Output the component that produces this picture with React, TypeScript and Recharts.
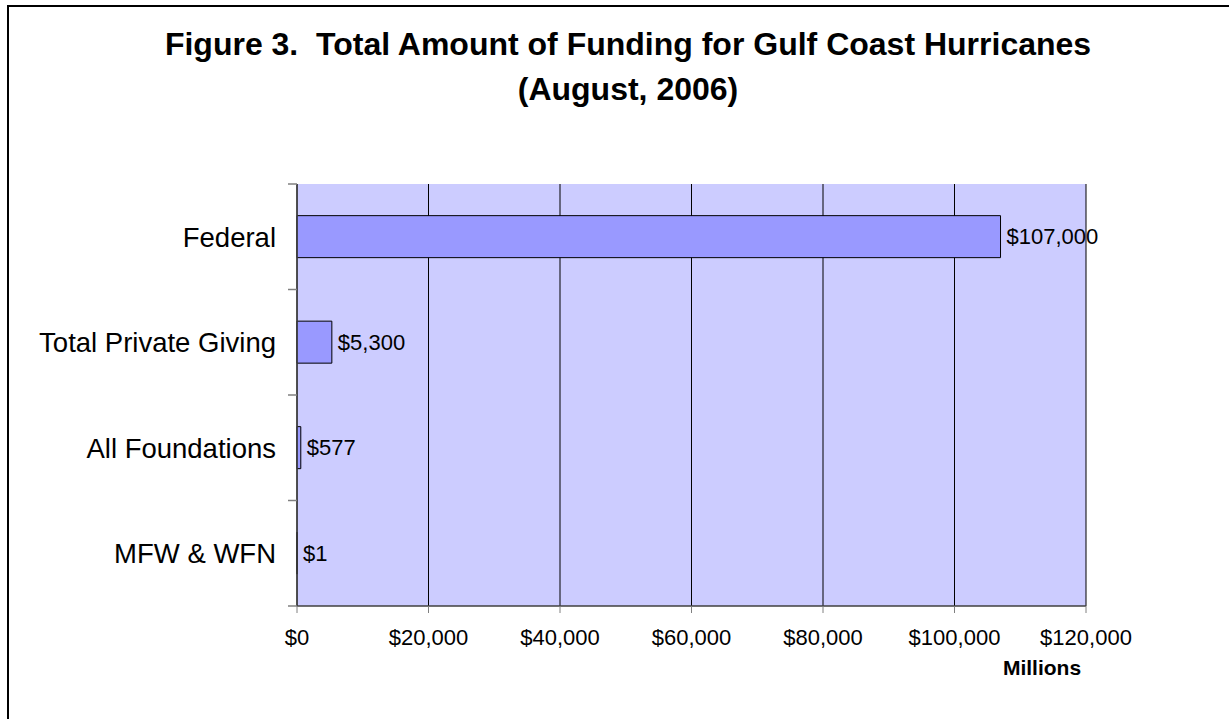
import { Bar, BarChart, CartesianGrid, LabelList, XAxis, YAxis } from 'recharts'

const categories = ['Federal', 'Total Private Giving', 'All Foundations', 'MFW & WFN']
const amounts = [107000, 5300, 577, 1]
const xTicks = [0, 20000, 40000, 60000, 80000, 100000, 120000]

const data = categories.map((name, i) => ({ name, value: amounts[i] }))

const money = (v: number) => `$${Number(v).toLocaleString('en-US')}`
const FONT = '"Liberation Sans", Arial, Helvetica, sans-serif'

const CAT_TICK_SIZE = 6
const CAT_TICK_MARGIN = 15

// Excel puts category ticks on the band edges, so draw them from the band offset
function CategoryTick(props: any) {
  const { x, y, payload, index, visibleTicksCount } = props
  const axisX = x + CAT_TICK_SIZE + CAT_TICK_MARGIN
  const half = payload?.offset ?? 0
  return (
    <g>
      <line x1={axisX - 9} x2={axisX} y1={y - half} y2={y - half} stroke="#808080" strokeWidth={1.5} />
      {index === visibleTicksCount - 1 && (
        <line x1={axisX - 9} x2={axisX} y1={y + half} y2={y + half} stroke="#808080" strokeWidth={1.5} />
      )}
      <text x={x} y={y} dy="0.355em" textAnchor="end" fontSize={27.5} fontFamily={FONT} fill="#000">
        {payload.value}
      </text>
    </g>
  )
}

export default function App() {
  return (
    <div
      style={{
        position: 'absolute',
        left: 0,
        top: 0,
        width: 1229,
        height: 719,
        overflow: 'hidden',
        background: '#fff',
        fontFamily: FONT,
        color: '#000',
      }}
    >
      {/* chart area frame, cut off at the right and bottom like the source */}
      <div
        style={{
          position: 'absolute',
          left: 7,
          top: 5,
          width: 1400,
          height: 900,
          border: '2px solid #000',
        }}
      />
      <div
        style={{
          position: 'absolute',
          left: 128,
          width: 1000,
          top: 22,
          textAlign: 'center',
          fontWeight: 'bold',
          fontSize: 32,
          lineHeight: '45px',
        }}
      >
        <div>Figure 3.&nbsp; Total Amount of Funding for Gulf Coast Hurricanes</div>
        <div>(August, 2006)</div>
      </div>

      <div style={{ position: 'absolute', left: 0, top: 0 }}>
        <BarChart
          width={1229}
          height={719}
          data={data}
          layout="vertical"
          barCategoryGap="30%"
          margin={{ top: 184, right: 143, bottom: 73, left: 17 }}
        >
          <CartesianGrid
            xAxisId="main"
            yAxisId="cat"
            horizontal={false}
            fill="#CCCCFF"
            fillOpacity={1}
            stroke="#000"
            strokeWidth={1}
          />
          <XAxis
            xAxisId="main"
            type="number"
            domain={[0, 120000]}
            ticks={xTicks}
            tickFormatter={money}
            height={40}
            tickSize={7}
            tickMargin={16}
            axisLine={{ stroke: '#404040', strokeWidth: 1.5 }}
            tickLine={{ stroke: '#808080' }}
            tick={{ fill: '#000', fontSize: 22, fontFamily: FONT }}
            interval={0}
          />
          <XAxis
            xAxisId="top"
            orientation="top"
            type="number"
            domain={[0, 120000]}
            height={0}
            tick={false}
            tickLine={false}
            axisLine={{ stroke: '#808080' }}
          />
          <YAxis
            yAxisId="cat"
            type="category"
            dataKey="name"
            width={280}
            axisLine={{ stroke: '#404040', strokeWidth: 1.5 }}
            tickLine={false}
            tickSize={CAT_TICK_SIZE}
            tickMargin={CAT_TICK_MARGIN}
            interval={0}
            tick={<CategoryTick />}
          />
          <YAxis
            yAxisId="right"
            orientation="right"
            type="number"
            domain={[0, 1]}
            width={0}
            tick={false}
            tickLine={false}
            axisLine={{ stroke: '#808080' }}
          />
          <Bar
            xAxisId="main"
            yAxisId="cat"
            dataKey="value"
            fill="#9999FF"
            stroke="#000"
            strokeWidth={1}
            isAnimationActive={false}
          >
            <LabelList
              dataKey="value"
              position="right"
              offset={6}
              formatter={(v: any) => money(v)}
              style={{ fill: '#000', fontSize: 22, fontFamily: FONT }}
            />
          </Bar>
        </BarChart>
      </div>

      <div
        style={{
          position: 'absolute',
          left: 942,
          width: 200,
          top: 655,
          textAlign: 'center',
          fontWeight: 'bold',
          fontSize: 21,
          lineHeight: '26px',
        }}
      >
        Millions
      </div>
    </div>
  )
}
